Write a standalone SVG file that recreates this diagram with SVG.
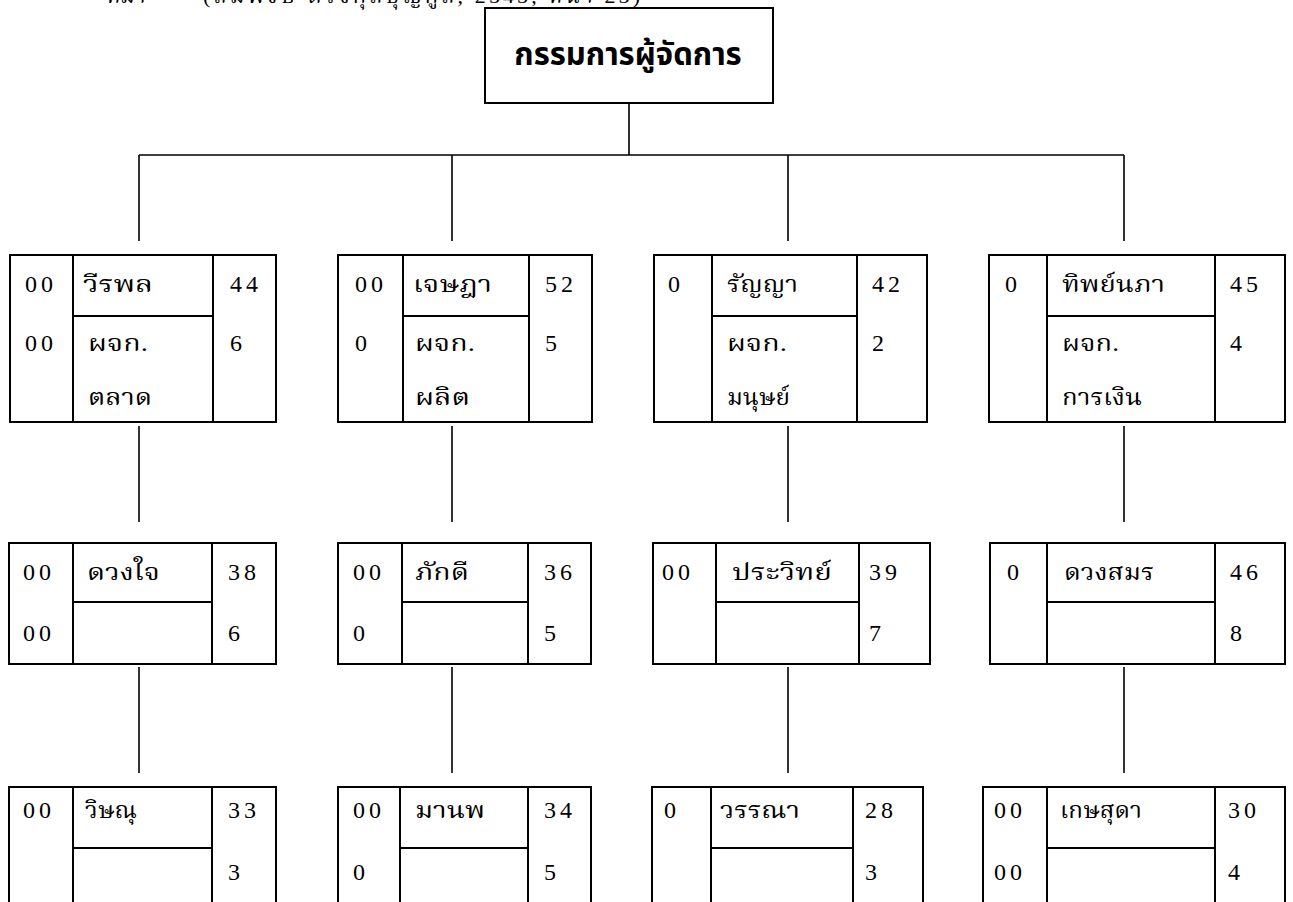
<svg xmlns="http://www.w3.org/2000/svg" width="1293" height="902" viewBox="0 0 1293 902">
<style>
.bg{fill:#fff}
.box{fill:#fff;stroke:#000;stroke-width:2}
.dv{stroke:#000;stroke-width:2;fill:none}
.conn{stroke:#000;stroke-width:1.6;fill:none}
.t{font-family:"Liberation Serif","Noto Serif Thai","Noto Sans Thai",serif;font-size:23px;fill:#000}
.n{font-family:"Liberation Serif",serif;font-size:24px;letter-spacing:4px;fill:#000}
.title{font-family:"Noto Sans Thai","Noto Sans","DejaVu Sans",sans-serif;font-size:31px;font-weight:bold;fill:#000}
.src{font-family:"Liberation Serif","Noto Serif Thai","Noto Sans Thai",serif;font-size:22px;fill:#000}
</style>
<rect class="bg" x="0" y="0" width="1293" height="902"/>
<text class="src" x="106" y="3">ที่มา</text>
<text class="src" x="203" y="3" textLength="437" lengthAdjust="spacing">(สมพงษ์ ตรงกุลบุญกูล, 2545, หน้า 25)</text>

<g id="connectors">
<path class="conn" d="M629 103V155M139 155H1124M139 155V241M452 155V241M788 155V241M1124 155V241"/>
<path class="conn" d="M139 426V522M452 426V522M788 426V522M1124 426V522"/>
<path class="conn" d="M139 667V773M452 667V773M788 667V773M1124 667V773"/>
</g>

<g id="md">
<rect class="box" x="485" y="8" width="288" height="95"/>
<text class="title" x="628" y="65" text-anchor="middle">กรรมการผู้จัดการ</text>
</g>

<!-- Row 1 -->
<g id="n-weeraphon">
<rect class="box" x="10" y="255" width="266" height="167"/>
<path class="dv" d="M73 255V422M213 255V422M73 316H213"/>
<text class="n" x="25" y="292">00</text><text class="n" x="25" y="351">00</text>
<text class="t" x="83" y="292" textLength="70" lengthAdjust="spacingAndGlyphs">วีรพล</text>
<text class="t" x="88" y="351" textLength="60" lengthAdjust="spacingAndGlyphs">ผจก.</text>
<text class="t" x="88" y="405" textLength="64" lengthAdjust="spacingAndGlyphs">ตลาด</text>
<text class="n" x="230" y="292">44</text><text class="n" x="230" y="351">6</text>
</g>
<g id="n-jetsada">
<rect class="box" x="338" y="255" width="254" height="167"/>
<path class="dv" d="M403 255V422M529 255V422M403 316H529"/>
<text class="n" x="355" y="292">00</text><text class="n" x="355" y="351">0</text>
<text class="t" x="413" y="292" textLength="79" lengthAdjust="spacingAndGlyphs">เจษฎา</text>
<text class="t" x="415" y="351" textLength="60" lengthAdjust="spacingAndGlyphs">ผจก.</text>
<text class="t" x="415" y="405" textLength="55" lengthAdjust="spacingAndGlyphs">ผลิต</text>
<text class="n" x="545" y="292">52</text><text class="n" x="545" y="351">5</text>
</g>
<g id="n-runya">
<rect class="box" x="654" y="255" width="273" height="167"/>
<path class="dv" d="M712 255V422M857 255V422M712 316H857"/>
<text class="n" x="668" y="292">0</text>
<text class="t" x="727" y="292" textLength="71" lengthAdjust="spacingAndGlyphs">รัญญา</text>
<text class="t" x="727" y="351" textLength="60" lengthAdjust="spacingAndGlyphs">ผจก.</text>
<text class="t" x="727" y="405" textLength="63" lengthAdjust="spacingAndGlyphs">มนุษย์</text>
<text class="n" x="872" y="292">42</text><text class="n" x="872" y="351">2</text>
</g>
<g id="n-thipnapa">
<rect class="box" x="989" y="255" width="296" height="167"/>
<path class="dv" d="M1047 255V422M1215 255V422M1047 316H1215"/>
<text class="n" x="1005" y="292">0</text>
<text class="t" x="1062" y="292" textLength="103" lengthAdjust="spacingAndGlyphs">ทิพย์นภา</text>
<text class="t" x="1062" y="351" textLength="57" lengthAdjust="spacingAndGlyphs">ผจก.</text>
<text class="t" x="1062" y="405" textLength="80" lengthAdjust="spacingAndGlyphs">การเงิน</text>
<text class="n" x="1230" y="292">45</text><text class="n" x="1230" y="351">4</text>
</g>

<!-- Row 2 -->
<g id="n-duangjai">
<rect class="box" x="9" y="543" width="267" height="121"/>
<path class="dv" d="M73 543V664M212 543V664M73 602H212"/>
<text class="n" x="23" y="580">00</text><text class="n" x="23" y="641">00</text>
<text class="t" x="87" y="580" textLength="73" lengthAdjust="spacingAndGlyphs">ดวงใจ</text>
<text class="n" x="228" y="580">38</text><text class="n" x="228" y="641">6</text>
</g>
<g id="n-phakdee">
<rect class="box" x="338" y="543" width="253" height="121"/>
<path class="dv" d="M402 543V664M528 543V664M402 602H528"/>
<text class="n" x="353" y="580">00</text><text class="n" x="353" y="641">0</text>
<text class="t" x="415" y="580" textLength="54" lengthAdjust="spacingAndGlyphs">ภักดี</text>
<text class="n" x="544" y="580">36</text><text class="n" x="544" y="641">5</text>
</g>
<g id="n-prawit">
<rect class="box" x="653" y="543" width="277" height="121"/>
<path class="dv" d="M716 543V664M859 543V664M716 602H859"/>
<text class="n" x="662" y="580">00</text>
<text class="t" x="732" y="580" textLength="100" lengthAdjust="spacingAndGlyphs">ประวิทย์</text>
<text class="n" x="869" y="580">39</text><text class="n" x="869" y="641">7</text>
</g>
<g id="n-duangsamorn">
<rect class="box" x="990" y="543" width="295" height="121"/>
<path class="dv" d="M1047 543V664M1215 543V664M1047 602H1215"/>
<text class="n" x="1007" y="580">0</text>
<text class="t" x="1064" y="580" textLength="90" lengthAdjust="spacingAndGlyphs">ดวงสมร</text>
<text class="n" x="1230" y="580">46</text><text class="n" x="1230" y="641">8</text>
</g>

<!-- Row 3 -->
<g id="n-witsanu">
<rect class="box" x="9" y="787" width="267" height="130"/>
<path class="dv" d="M73 787V917M212 787V917M73 848H212"/>
<text class="n" x="23" y="818">00</text>
<text class="t" x="85" y="818" textLength="52" lengthAdjust="spacingAndGlyphs">วิษณุ</text>
<text class="n" x="228" y="818">33</text><text class="n" x="228" y="880">3</text>
</g>
<g id="n-manop">
<rect class="box" x="338" y="787" width="253" height="130"/>
<path class="dv" d="M400 787V917M528 787V917M400 848H528"/>
<text class="n" x="353" y="818">00</text><text class="n" x="353" y="880">0</text>
<text class="t" x="415" y="818" textLength="70" lengthAdjust="spacingAndGlyphs">มานพ</text>
<text class="n" x="544" y="818">34</text><text class="n" x="544" y="880">5</text>
</g>
<g id="n-wanna">
<rect class="box" x="652" y="787" width="271" height="130"/>
<path class="dv" d="M711 787V917M853 787V917M711 848H853"/>
<text class="n" x="664" y="818">0</text>
<text class="t" x="720" y="818" textLength="80" lengthAdjust="spacingAndGlyphs">วรรณา</text>
<text class="n" x="865" y="818">28</text><text class="n" x="865" y="880">3</text>
</g>
<g id="n-ketsuda">
<rect class="box" x="983" y="787" width="302" height="130"/>
<path class="dv" d="M1047 787V917M1215 787V917M1047 848H1215"/>
<text class="n" x="994" y="818">00</text><text class="n" x="994" y="880">00</text>
<text class="t" x="1060" y="818" textLength="82" lengthAdjust="spacingAndGlyphs">เกษสุดา</text>
<text class="n" x="1228" y="818">30</text><text class="n" x="1228" y="880">4</text>
</g>
</svg>
